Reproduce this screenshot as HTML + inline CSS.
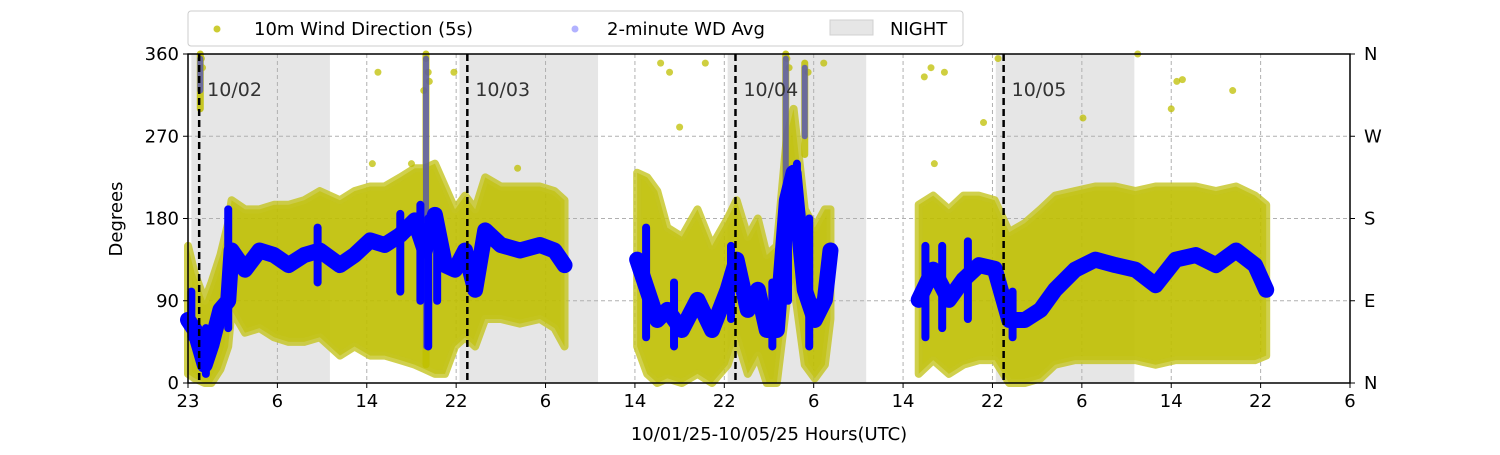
<!DOCTYPE html>
<html><head><meta charset="utf-8"><style>
body{margin:0;background:#fff;font-family:"Liberation Sans","DejaVu Sans",sans-serif}
svg text{font-family:"DejaVu Sans","Liberation Sans",sans-serif}
</style></head><body>
<svg id="chart" width="1500" height="450" xmlns="http://www.w3.org/2000/svg"></svg>
<script>
// ---- data ----
const tickLabels=["23","6","14","22","6","14","22","6","14","22","6","14","22","6"];
const midnights=[1,25,49,73];
const dayLabels=["10/02","10/03","10/04","10/05"];
const segments=[
 {t:[0,0.6,1.5,2.1,2.9,3.6,3.9,5.1,6.4,7.7,9.0,10.4,11.8,13.6,14.9,16.3,17.6,19.0,20.3,21.2,22.1,23.0,23.9,24.8,25.7,26.6,28.0,29.7,31.5,32.8,33.7],
  avg:[69,58,20,42,80,90,145,124,145,140,129,140,145,129,140,156,151,162,178,145,184,129,124,145,102,167,151,145,151,145,129],
  lo:[10,5,0,0,15,40,80,55,60,50,45,45,50,30,40,30,30,25,20,15,10,10,40,50,40,70,70,65,70,60,40],
  hi:[150,120,90,110,140,175,200,190,190,195,195,200,210,200,210,215,215,225,235,235,240,215,190,205,190,225,215,215,215,210,200]},
 {t:[40.2,41.1,42.0,42.9,44.2,45.6,46.9,48.3,49.1,50.1,51.0,51.8,52.7,53.6,54.2,55.2,56.1,57.0,57.5],
  avg:[135,102,69,80,58,91,58,102,135,80,102,58,58,200,230,102,69,91,145],
  lo:[40,10,0,5,0,10,0,20,50,10,30,0,0,90,110,20,5,20,70],
  hi:[230,225,210,170,160,190,150,180,200,160,180,140,150,270,300,190,170,190,190]},
 {t:[65.4,66.7,68.1,69.4,70.8,72.2,73.5,74.9,76.3,77.6,79.4,81.2,83.0,84.8,86.6,88.4,90.2,92.0,93.8,95.5,96.5],
  avg:[91,124,91,113,129,125,69,69,80,102,124,135,129,124,107,135,140,129,145,129,102],
  lo:[10,25,10,20,25,25,0,0,5,20,25,25,25,25,20,25,25,25,25,25,30],
  hi:[195,205,190,205,205,200,165,175,190,205,210,215,215,210,215,215,215,210,215,205,195]}
];
const outT=[1.2,1.3,17,21.3,21.5,21.6,21.1,23.8,42.3,43.1,46.3,53.6,53.8,55.5,56.9,65.9,66.5,67.7,72.5,80.1,85.0,88.5,89.0,93.5,71.2,88.0,16.5,20.0,29.5,44.0,66.8];
const outV=[355,345,340,355,340,330,320,340,350,340,350,355,345,340,350,335,345,340,355,290,360,330,332,320,285,300,240,240,235,280,240];
const spikeT=[1.1,21.3,53.5,55.2];
const spikeLo=[300,20,150,250];
const spikeHi=[360,360,360,350];
const blueT=[0.3,1.6,3.6,11.6,19.0,20.8,21.5,22.3,41.0,43.5,48.6,52.3,53.7,54.5,55.6,66.0,67.5,69.8,73.8];
const blueLo=[50,10,60,110,100,90,40,90,50,40,70,40,90,160,40,50,60,70,50];
const blueHi=[100,60,190,170,185,195,180,180,170,110,150,110,200,240,180,150,150,155,100];
// ---- scales ----
const X0=188,X1=1350,Y0=383,Y1=54,HMAX=104;
const sx=h=>X0+h/HMAX*(X1-X0);
const sy=v=>Y0-v/360*(Y0-Y1);
const svg=document.getElementById('chart');
const NS='http://www.w3.org/2000/svg';
function mk(tag,attrs,parent){const e=document.createElementNS(NS,tag);for(const k in attrs)e.setAttribute(k,attrs[k]);(parent||svg).appendChild(e);return e;}
// night
midnights.forEach((m,i)=>{
 const r=mk('rect',{x:Math.max(sx(m-0.7),X0),y:Y1,width:sx(m+11.7)-sx(m-0.7),height:Y0-Y1,fill:'#e6e6e6'});
 
 
});
// grid
for(let i=0;i<tickLabels.length;i++){const x=sx(i*8);
 const g=mk('line',{x1:x,x2:x,y1:Y1,y2:Y0,stroke:'#b0b0b0','stroke-dasharray':'4,3'});
 
 }
[90,180,270].forEach(v=>{const g=mk('line',{x1:X0,x2:X1,y1:sy(v),y2:sy(v),stroke:'#b0b0b0','stroke-dasharray':'4,3'});
 
 });
// yellow band
segments.forEach(s=>{
 let p=s.t.map((t,i)=>sx(t)+','+sy(s.hi[i])).join(' ')+' '+s.t.map((t,i)=>sx(t)+','+sy(s.lo[i])).reverse().join(' ');
 const b=mk('polygon',{points:p,fill:'#bfbf00','fill-opacity':0.9,stroke:'#c4c420','stroke-width':8,'stroke-linejoin':'round','stroke-opacity':0.8});
 
 
});
outT.forEach((t,i)=>{const c=mk('circle',{cx:sx(t),cy:sy(outV[i]),r:3.5,fill:'#bfbf00','fill-opacity':0.75});
 
 });
spikeT.forEach((t,i)=>{const l=mk('line',{x1:sx(t),x2:sx(t),y1:sy(spikeLo[i]),y2:sy(spikeHi[i]),stroke:'#bfbf00','stroke-width':7,'stroke-linecap':'round','stroke-opacity':0.85});
 
 
 const b=mk('line',{x1:sx(t),x2:sx(t),y1:sy(spikeLo[i]+20),y2:sy(spikeHi[i]-5),stroke:'#2020ff','stroke-width':6,'stroke-opacity':0.55,'stroke-linecap':'round'});
 
 });
// blue excursions
blueT.forEach((t,i)=>{const b=mk('line',{x1:sx(t),x2:sx(t),y1:sy(blueLo[i]),y2:sy(blueHi[i]),stroke:'#0000ff','stroke-width':8,'stroke-linecap':'round'});
 
 });
// blue avg
segments.forEach(s=>{
 const pl=mk('polyline',{points:s.t.map((t,i)=>sx(t)+','+sy(s.avg[i])).join(' '),fill:'none',stroke:'#0000ff','stroke-width':16,'stroke-linejoin':'round','stroke-linecap':'round'});
 
 
});
// midnight lines + labels
midnights.forEach((m,i)=>{
 const l=mk('line',{x1:sx(m),x2:sx(m),y1:Y1,y2:Y0,stroke:'#000','stroke-width':2.5,'stroke-dasharray':'7,4'});
 
 
 const t=mk('text',{x:sx(m)+8,y:96,'font-size':19,fill:'#333'});t.textContent=dayLabels[i];
 
 
});
// frame
const f=mk('rect',{x:X0,y:Y1,width:X1-X0,height:Y0-Y1,fill:'none',stroke:'#000','stroke-width':1.5});


// x ticks
tickLabels.forEach((lab,i)=>{const x=sx(i*8);
 mk('line',{x1:x,x2:x,y1:Y0,y2:Y0+5,stroke:'#000'});
 const t=mk('text',{x:x,y:Y0+24,'font-size':18,'text-anchor':'middle'});t.textContent=lab;
 
 });
const yl=["0","90","180","270","360"],yr=["N","E","S","W","N"];
[0,90,180,270,360].forEach((v,i)=>{const y=sy(v);
 mk('line',{x1:X0-5,x2:X0,y1:y,y2:y,stroke:'#000'});
 mk('line',{x1:X1,x2:X1+5,y1:y,y2:y,stroke:'#000'});
 const t=mk('text',{x:X0-9,y:y+6,'font-size':18,'text-anchor':'end'});t.textContent=yl[i];
 
 
 const r=mk('text',{x:X1+14,y:y+6,'font-size':18});r.textContent=yr[i];
 
 });
const xt=mk('text',{x:769,y:440,'font-size':18,'text-anchor':'middle'});xt.textContent='10/01/25-10/05/25  Hours(UTC)';


const ytt=mk('text',{x:122,y:219,'font-size':18,'text-anchor':'middle',transform:'rotate(-90 122 219)'});ytt.textContent='Degrees';


// legend
const lg=mk('g',{});


mk('rect',{x:188,y:11,width:775,height:35,rx:3,fill:'#fff',stroke:'#ccc'},lg);
mk('circle',{cx:217,cy:29,r:3.5,fill:'#bfbf00','fill-opacity':0.8},lg);
const l1=mk('text',{x:254,y:35,'font-size':18},lg);l1.textContent='10m Wind Direction (5s)';


mk('circle',{cx:575,cy:29,r:3.5,fill:'#0000ff','fill-opacity':0.3},lg);
const l2=mk('text',{x:607,y:35,'font-size':18},lg);l2.textContent='2-minute WD Avg';


mk('rect',{x:830,y:20,width:43,height:15,fill:'#e6e6e6',stroke:'#d0d0d0'},lg);
const l3=mk('text',{x:890,y:35,'font-size':18},lg);l3.textContent='NIGHT';


</script>
</body></html>
